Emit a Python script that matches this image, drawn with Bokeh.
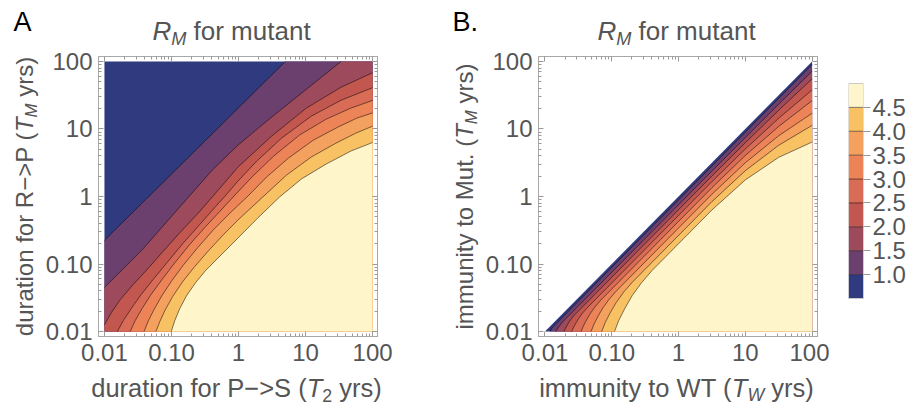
import math
from bokeh.plotting import figure
from bokeh.models import FixedTicker, LogAxis, Label, Range1d
from bokeh.layouts import row, column
from bokeh.embed import file_html
from bokeh.resources import INLINE

# ---------------- data ----------------
levels = [1.0, 1.5, 2.0, 2.5, 3.0, 3.5, 4.0, 4.5]
level_labels = ["1.0", "1.5", "2.0", "2.5", "3.0", "3.5", "4.0", "4.5"]
band_colors = ["#2F3B7E", "#6C406E", "#9C4A5C", "#C2574F", "#D96C56",
               "#EC8458", "#F4A05F", "#F8C163", "#FEF6CA"]
bar_ends = [0.5, 5.0]
axis_ticks = [0.01, 0.1, 1, 10, 100]
axis_tick_labels = ["0.01", "0.10", "1", "10", "100"]
domain = [0.01, 100]

# Panel A: contour lines of R_M over (T2, TM)
a10_x = [0.01, 0.2, 5.0]
a10_y = [0.225, 4.24, 100]
a15_x = [0.01, 0.0191, 0.0377, 0.0824, 0.180, 0.407, 0.986, 2.64, 8.69, 33.9]
a15_y = [0.0451, 0.0853, 0.168, 0.407, 0.986, 2.47, 5.78, 13.1, 33.9, 100]
a20_x = [0.01, 0.0127, 0.0172, 0.0259, 0.0417, 0.0743, 0.137, 0.253, 0.407, 0.986, 3.13, 10.3, 33.9, 100]
a20_y = [0.0126, 0.0191, 0.0297, 0.0478, 0.0796, 0.152, 0.300, 0.573, 0.986, 2.74, 7.85, 20.4, 41.6, 68.1]
a25_x = [0.0156, 0.0191, 0.0251, 0.0352, 0.0530, 0.0853, 0.147, 0.262, 0.451, 0.634, 0.986, 1.88, 4.41, 12.2, 33.9, 100]
a25_y = [0.01, 0.0145, 0.0219, 0.0352, 0.0586, 0.104, 0.200, 0.381, 0.702, 1.02, 1.70, 3.36, 7.35, 15.5, 26.7, 40.9]
a30_x = [0.0242, 0.0287, 0.0364, 0.0494, 0.0719, 0.112, 0.186, 0.321, 0.535, 0.861, 1.59, 3.36, 8.13, 20.4, 47.6, 100]
a30_y = [0.01, 0.0145, 0.0219, 0.0352, 0.0586, 0.104, 0.193, 0.356, 0.612, 1.02, 1.95, 3.98, 8.13, 14.0, 20.4, 26.5]
a35_x = [0.039, 0.0447, 0.0548, 0.0719, 0.101, 0.152, 0.245, 0.422, 0.752, 1.39, 2.64, 5.58, 13.1, 30.6, 58.5, 100]
a35_y = [0.01, 0.0141, 0.0211, 0.0340, 0.0566, 0.0977, 0.174, 0.321, 0.573, 1.02, 1.95, 3.72, 6.85, 10.7, 14.5, 17.3]
a40_x = [0.0586, 0.0671, 0.0796, 0.104, 0.147, 0.221, 0.356, 0.593, 0.986, 2.31, 5.22, 12.2, 28.6, 56.5, 100]
a40_y = [0.01, 0.0141, 0.0204, 0.0329, 0.0548, 0.0912, 0.157, 0.271, 0.451, 0.986, 2.08, 3.85, 6.19, 8.69, 11.0]
a45_x = [0.0993, 0.112, 0.133, 0.168, 0.229, 0.321, 0.483, 0.752, 0.986, 1.95, 4.11, 8.69, 20.4, 47.6, 100]
a45_y = [0.01, 0.0145, 0.0219, 0.0340, 0.0530, 0.0796, 0.120, 0.186, 0.244, 0.483, 0.986, 1.82, 3.03, 4.72, 6.30]

# Panel B: contour lines of R_M over (TW, TM); region TM > TW is undefined
b10_x = [0.0119, 0.0129, 3.16, 100]
b10_y = [0.01, 0.0115, 2.82, 90.2]
b15_x = [0.0145, 0.0156, 0.0183, 3.16, 31.6, 100]
b15_y = [0.01, 0.0113, 0.0138, 2.38, 23.3, 71.9]
b20_x = [0.0193, 0.0202, 0.0215, 0.0231, 0.0253, 0.028, 3.16, 10, 31.6, 100]
b20_y = [0.01, 0.0111, 0.0124, 0.0140, 0.0158, 0.0178, 2.01, 6.25, 18.9, 55.3]
b25_x = [0.0251, 0.0269, 0.0294, 0.0326, 0.0371, 0.0428, 3.16, 10, 31.6, 100]
b25_y = [0.01, 0.0116, 0.0136, 0.0161, 0.0191, 0.0224, 1.66, 5.05, 14.4, 37.9]
b30_x = [0.0348, 0.0378, 0.0423, 0.0484, 0.0573, 0.0692, 3.16, 10, 31.6, 100]
b30_y = [0.01, 0.0122, 0.0151, 0.0189, 0.0238, 0.0295, 1.35, 4.05, 10.9, 26.3]
b35_x = [0.049, 0.0541, 0.0624, 0.0741, 0.0918, 0.117, 3.16, 10, 31.6, 100]
b35_y = [0.01, 0.0128, 0.0169, 0.0226, 0.0302, 0.0398, 1.08, 3.16, 7.94, 17.1]
b40_x = [0.0706, 0.0796, 0.0946, 0.117, 0.151, 0.203, 3.16, 10, 31.6, 100]
b40_y = [0.01, 0.0135, 0.0189, 0.0270, 0.0384, 0.0537, 0.838, 2.41, 5.74, 11.3]
b45_x = [0.110, 0.127, 0.157, 0.202, 0.278, 0.398, 3.16, 10, 31.6, 100]
b45_y = [0.01, 0.0145, 0.0220, 0.0340, 0.0525, 0.0794, 0.631, 1.76, 3.80, 6.40]

a_lines = [(a10_x, a10_y), (a15_x, a15_y), (a20_x, a20_y), (a25_x, a25_y),
           (a30_x, a30_y), (a35_x, a35_y), (a40_x, a40_y), (a45_x, a45_y)]
b_lines = [(b10_x, b10_y), (b15_x, b15_y), (b20_x, b20_y), (b25_x, b25_y),
           (b30_x, b30_y), (b35_x, b35_y), (b40_x, b40_y), (b45_x, b45_y)]

# ---------------- style / layout ----------------
FONT = "Liberation Sans"
TEXT = "#555555"
FRAME = "#a8a8a8"
TICK = "#9a9a9a"
W = 909
HEAD = 50            # header strip: page y 0..50
MID_TOP = 6          # frames at page y 56..336
MID_BOT = 35
FOOT = 35            # footer strip: page y 371..406
MID_H = MID_TOP + 280 + MID_BOT
MID_SHIFT = 0.3465   # (ascent - descent) / 2 of Liberation Sans, in em
SUB_SCALE = 0.7
SUB_DROP = 0.2
minor = [m * 10.0 ** e for e in range(-2, 2) for m in range(2, 10)]

AW = {' ': 278, '(': 333, ')': 333, '\u2212': 584, '-': 333, '>': 584, '.': 278,
      'M': 833, 'P': 667, 'R': 722, 'S': 667, 'T': 611, 'W': 944, 'A': 667, 'B': 667,
      'a': 556, 'd': 556, 'e': 556, 'f': 278, 'i': 222, 'm': 833, 'n': 556, 'o': 556,
      'r': 333, 's': 500, 't': 278, 'u': 556, 'y': 500}


def tw(s, size):
    return sum(AW.get(c, 556) for c in s) * size / 1000.0


def canvas_fig(width, height, x0, y0):
    """A figure whose frame is the whole canvas, with page-pixel coordinates."""
    f = figure(width=width, height=height, x_range=Range1d(x0, x0 + width),
               y_range=Range1d(y0 + height, y0), x_axis_location=None,
               y_axis_location=None, output_backend="svg", toolbar_location=None,
               min_border=0, min_border_left=0, min_border_right=0,
               min_border_top=0, min_border_bottom=0)
    f.grid.visible = False
    f.outline_line_color = None
    return f


def put_text(f, t, px, py, fs, style="normal", color=TEXT, vertical=False):
    """Place text with its alphabetic baseline at page point (px, py)."""
    shift = MID_SHIFT * fs
    if vertical:
        f.add_layout(Label(x=px - shift, y=py, angle=math.pi / 2, text=t, text_font=FONT,
                           text_font_size="%.1fpx" % fs, text_font_style=style,
                           text_color=color, text_align="left", text_baseline="middle"))
    else:
        f.add_layout(Label(x=px, y=py - shift, angle=0, text=t, text_font=FONT,
                           text_font_size="%.1fpx" % fs, text_font_style=style,
                           text_color=color, text_align="left", text_baseline="middle"))


def rich(f, pieces, size, cx=None, base_y=None, base_x=None, cy=None, color=TEXT):
    ws = [tw(t, size * SUB_SCALE if k[0] == 's' else size) for t, k in pieces]
    off = -sum(ws) / 2.0
    for (t, k), w in zip(pieces, ws):
        sub = k[0] == 's'
        fs = size * SUB_SCALE if sub else size
        style = "italic" if k[-1] == 'i' else "normal"
        drop = SUB_DROP * size if sub else 0.0
        stripped = t.lstrip(" ")
        lead = tw(t[:len(t) - len(stripped)], fs)
        if base_y is not None:
            put_text(f, stripped, cx + off + lead, base_y + drop, fs, style, color)
        else:
            put_text(f, stripped, base_x + drop, cy - off - lead, fs, style, color,
                     vertical=True)
        off += w


def style_axis(ax, show):
    ax.ticker = FixedTicker(ticks=axis_ticks, minor_ticks=minor)
    ax.major_tick_in = 5
    ax.major_tick_out = 0
    ax.minor_tick_in = 3
    ax.minor_tick_out = 0
    ax.major_tick_line_color = TICK
    ax.minor_tick_line_color = TICK
    ax.axis_line_color = FRAME
    if show:
        ax.major_label_overrides = dict(zip(axis_ticks, axis_tick_labels))
        ax.major_label_text_font = FONT
        ax.major_label_text_font_size = "24px"
        ax.major_label_text_color = TEXT
    else:
        ax.major_label_overrides = {t: " " for t in axis_ticks}
        ax.major_label_text_font_size = "1px"
        ax.major_label_text_color = None
        ax.major_label_standoff = 0


def region(xs, ys):
    lo, hi = domain
    px, py = list(xs), list(ys)
    if ys[-1] >= hi:
        px.append(hi)
        py.append(hi)
    px.append(hi)
    py.append(lo)
    if xs[0] <= lo and ys[0] > lo:
        px.append(lo)
        py.append(lo)
    return px, py


def panel(width, left_border, right_border, xr, yr, lines, triangle):
    p = figure(width=width, height=MID_H, x_axis_type="log", y_axis_type="log",
               x_range=Range1d(*xr), y_range=Range1d(*yr),
               output_backend="svg", toolbar_location=None,
               min_border_left=left_border, min_border_right=right_border,
               min_border_top=MID_TOP, min_border_bottom=MID_BOT)
    p.grid.visible = False
    p.outline_line_color = FRAME
    p.background_fill_color = "white"
    p.border_fill_color = "white"
    style_axis(p.xaxis[0], True)
    style_axis(p.yaxis[0], True)
    p.xaxis[0].major_label_standoff = 7
    p.yaxis[0].major_label_standoff = 6
    top = LogAxis()
    rgt = LogAxis()
    style_axis(top, False)
    style_axis(rgt, False)
    p.add_layout(top, "above")
    p.add_layout(rgt, "right")
    lo, hi = domain
    if triangle:
        p.patch([lo, hi, hi], [lo, hi, lo], fill_color=band_colors[0], line_color=None)
    else:
        p.patch([lo, lo, hi, hi], [lo, hi, hi, lo], fill_color=band_colors[0], line_color=None)
    for i, (xs, ys) in enumerate(lines):
        rx, ry = region(xs, ys)
        p.patch(rx, ry, fill_color=band_colors[i + 1], line_color=None)
    for xs, ys in lines:
        p.line(xs, ys, line_color="black", line_alpha=0.5, line_width=1)
    return p


def strip_fig(width, x0):
    f = figure(width=width, height=MID_H, x_range=Range1d(x0, x0 + width),
               y_range=Range1d(336, 56), x_axis_location=None, y_axis_location=None,
               output_backend="svg", toolbar_location=None, min_border_left=0,
               min_border_right=0, min_border_top=MID_TOP, min_border_bottom=MID_BOT)
    f.grid.visible = False
    f.outline_line_color = None
    return f


# middle row: [ylabel A | panel A | ylabel B | panel B | colour bar]
ylabA = strip_fig(42, 0)
ylabB = strip_fig(34, 448)
pA = panel(406, 53, 71, (0.00815, 118.5), (0.00844, 118.5), a_lines, False)
pB = panel(347, 53, 12, (0.0080, 120.5), (0.00844, 118.5), b_lines, True)

rich(ylabA, [("duration for R\u2212>P (", "n"), ("T", "i"), ("M", "si"), (" yrs)", "n")],
     24, base_x=32, cy=196)
rich(ylabB, [("immunity to Mut. (", "n"), ("T", "i"), ("M", "si"), (" yrs)", "n")],
     24, base_x=472, cy=196)

# colour bar: frame spans page y 56..336; bar drawn at 83..298
ppu = (298 - 83) / (bar_ends[1] - bar_ends[0])
cb_range = (bar_ends[0] - (336 - 298) / ppu, bar_ends[1] + (83 - 56) / ppu)
cb = figure(width=80, height=MID_H, x_range=Range1d(0, 1), y_range=Range1d(*cb_range),
            x_axis_location=None, y_axis_location="right",
            output_backend="svg", toolbar_location=None,
            min_border_left=19, min_border_right=46, min_border_top=MID_TOP,
            min_border_bottom=MID_BOT)
cb.grid.visible = False
cb.outline_line_color = None
cb.quad(left=0, right=1, bottom=[bar_ends[0]] + levels, top=levels + [bar_ends[1]],
        fill_color=band_colors, line_color=None)
cb.segment(x0=[0] * len(levels), x1=[1] * len(levels), y0=levels, y1=levels,
           line_color="black", line_alpha=0.5, line_width=1)
cb.quad(left=0, right=1, bottom=bar_ends[0], top=bar_ends[1], fill_color=None,
        line_color="#c8c8c8", line_width=1)
ya = cb.yaxis[0]
ya.ticker = FixedTicker(ticks=levels)
ya.major_label_overrides = dict(zip(levels, level_labels))
ya.major_tick_in = 0
ya.major_tick_out = 7
ya.minor_tick_line_color = None
ya.major_tick_line_color = TICK
ya.axis_line_color = None
ya.major_label_standoff = 2
ya.major_label_text_font = FONT
ya.major_label_text_font_size = "24px"
ya.major_label_text_color = TEXT

# header: panel letters and titles
head = canvas_fig(W, HEAD, 0, 0)
title = [("R", "i"), ("M", "si"), (" for mutant", "n")]
rich(head, title, 26, cx=231, base_y=40)
rich(head, title, 26, cx=676, base_y=40)
put_text(head, "A", 13, 31, 27, color="black")
put_text(head, "B.", 452, 31, 27, color="black")

# footer: x-axis titles
foot = canvas_fig(W, FOOT, 0, HEAD + MID_H)
rich(foot, [("duration for P\u2212>S (", "n"), ("T", "i"), ("2", "sn"), (" yrs)", "n")],
     25.5, cx=236, base_y=396)
rich(foot, [("immunity to WT (", "n"), ("T", "i"), ("W", "si"), (" yrs)", "n")],
     25.5, cx=676, base_y=396)

layout = column(head, row(ylabA, pA, ylabB, pB, cb), foot)
open("out.html", "w").write(file_html(layout, INLINE))
